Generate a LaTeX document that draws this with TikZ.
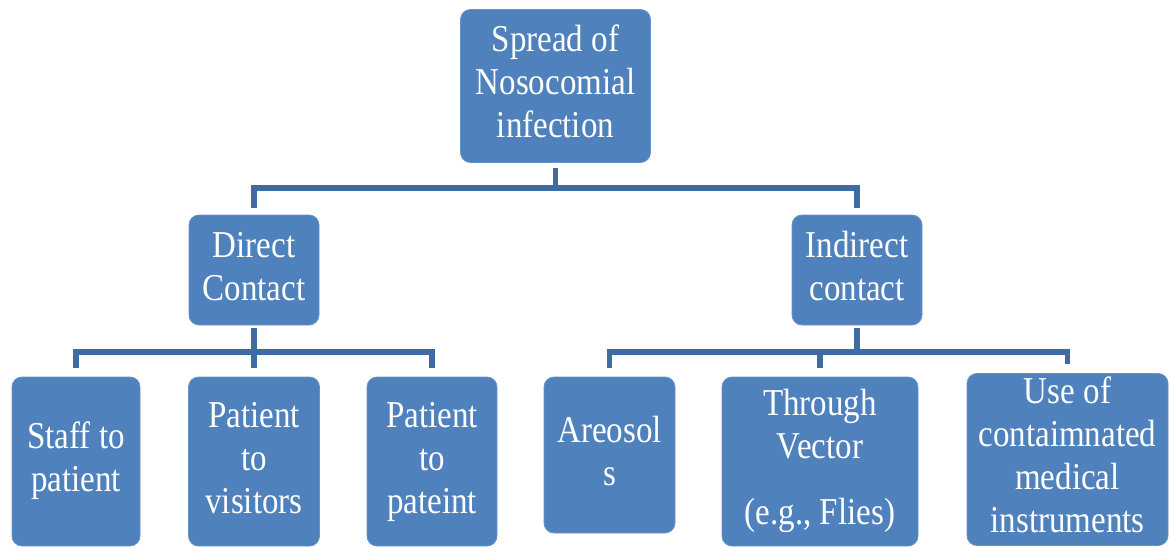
\documentclass[tikz,border=0pt]{standalone}
\usepackage{fontspec}
\usepackage{graphicx}
\setmainfont{Liberation Serif}
\definecolor{boxblue}{RGB}{79,129,189}
\definecolor{lineblue}{RGB}{62,108,162}
\newcommand{\vtext}[2][33]{\scalebox{1}[1.15]{\fontsize{#1}{37.4}\selectfont\begin{tabular}{@{}c@{}}#2\end{tabular}}}
\tikzset{
  box/.style={rectangle, rounded corners=10pt, fill=boxblue, draw=boxblue!85!white, line width=0.8pt, text=white, inner sep=0pt},
  conn/.style={draw=lineblue, line width=5.5pt}
}
\begin{document}
\begin{tikzpicture}[x=1pt,y=-1pt]
\useasboundingbox (0,0) rectangle (1171,547);
% level 0
\node[box, minimum width=190pt, minimum height=153pt] (top) at (555.5,86) {\vtext{Spread of\\Nosocomial\\infection}};
% level 1
\node[box, minimum width=130pt, minimum height=110pt] (dc) at (254,270) {\vtext{Direct\\Contact}};
\node[box, minimum width=130pt, minimum height=110pt] (ic) at (857,270) {\vtext{Indirect\\contact}};
% level 2
\node[box, minimum width=128pt, minimum height=169pt] (sp) at (76,461.5) {\vtext{Staff to\\patient}};
\node[box, minimum width=131pt, minimum height=169pt] (pv) at (254,461.5) {\vtext{Patient\\to\\visitors}};
\node[box, minimum width=130pt, minimum height=169pt] (pp) at (432,461.5) {\vtext{Patient\\to\\pateint}};
\node[box, minimum width=131pt, minimum height=156pt] (ar) at (609.5,455) {\vtext{Areosol\\s}};
\node[box, minimum width=196pt, minimum height=169pt] (tv) at (820,461.5) {\vtext{Through\\Vector\\[20pt](e.g., Flies)}};
\node[box, minimum width=201pt, minimum height=165pt] (uc) at (1067.5,459.5) {\vtext{Use of\\contaimnated\\medical\\instruments}};
% connectors
\coordinate (b0) at (555.5,188);
\coordinate (b1) at (254,352);
\coordinate (b2) at (857,352);
\draw[conn] ([yshift=-5pt]top.south) -- (b0);
\draw[conn] ([yshift=7pt]dc.north) |- (b0) -| ([yshift=7pt]ic.north);
\draw[conn] ([yshift=-3pt]dc.south) -- (b1);
\draw[conn] ([yshift=9pt]sp.north) |- (b1) -| ([yshift=9pt]pp.north);
\draw[conn] (b1) -- ([yshift=9pt]pv.north);
\draw[conn] ([yshift=-3pt]ic.south) -- (b2);
\draw[conn] ([yshift=9pt]ar.north) |- (b2) -| ([yshift=9pt]uc.north);
\draw[conn] ([yshift=9pt]tv.north) -- (tv.north |- b2);
\end{tikzpicture}
\end{document}
